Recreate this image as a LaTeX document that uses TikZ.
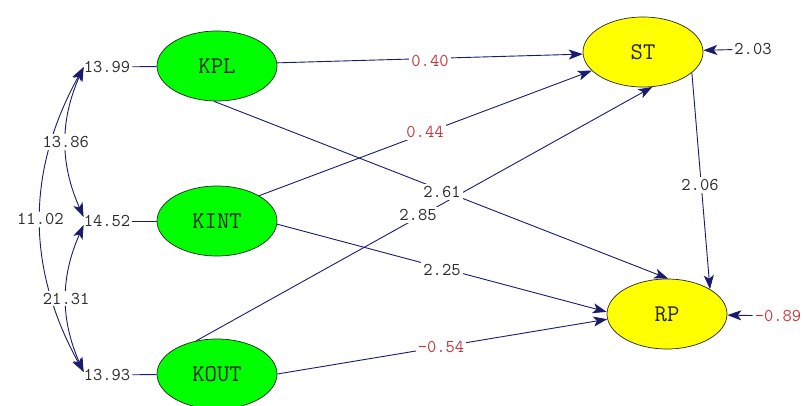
\documentclass[tikz,border=0pt]{standalone}
\usepackage{fontspec}
\usetikzlibrary{shapes.geometric,arrows.meta}
\definecolor{navy}{HTML}{1A1A6E}
\definecolor{numred}{HTML}{C0393F}
\definecolor{numblk}{HTML}{2A2A2A}
\definecolor{exo}{HTML}{00FF00}
\definecolor{endo}{HTML}{FFFF00}
\begin{document}
\begin{tikzpicture}[x=1pt,y=-1pt,
  latent/.style={ellipse,draw=black!85,line width=0.7pt,minimum width=120pt,minimum height=70pt,inner sep=0pt,font=\ttfamily\fontsize{24}{24}\selectfont,text=black!85},
  exonode/.style={latent,fill=exo},
  endonode/.style={latent,fill=endo},
  num/.style={font=\ttfamily\fontsize{18}{18}\selectfont,text=numblk,inner sep=2pt},
  rednum/.style={num,text=numred},
  cut/.style={fill=white},
  path/.style={draw=navy,line width=0.9pt,-{Stealth[length=14pt,width=10pt,inset=3.5pt]}},
  cov/.style={draw=navy,line width=0.9pt,{Stealth[length=14pt,width=10pt,inset=3.5pt]}-{Stealth[length=14pt,width=10pt,inset=3.5pt]}},
  plain/.style={draw=navy,line width=0.9pt}]
\useasboundingbox (0,0) rectangle (803,406);
% latent variables
\node[exonode] (KPL) at (217,66) {KPL};
\node[exonode] (KINT) at (217,221) {KINT};
\node[exonode] (KOUT) at (217,374) {KOUT};
\node[endonode] (ST) at (643,52) {ST};
\node[endonode] (RP) at (667,314) {RP};
% variances
\node[num] (v1) at (107,67) {13.99};
\node[num] (v2) at (107,221) {14.52};
\node[num] (v3) at (107,375) {13.93};
\node[num] (e1) at (753,49) {2.03};
\node[rednum] (e2) at (778,316) {-0.89};
\draw[plain] (v1) -- (KPL);
\draw[plain] (v2) -- (KINT);
\draw[plain] (v3) -- (KOUT);
\draw[path] (e1) -- (ST);
\draw[path] (e2) -- (RP);
% structural paths
\draw[path] (KPL.3) -- (ST.182);
\draw[path] (KINT.31) -- (ST.200);
\draw[path] (KOUT.122) -- (ST.-75);
\draw[path] (KPL.-95) -- (RP.88);
\draw[path] (KINT.-3) -- (RP.178);
\draw[path] (KOUT.0) -- (RP.-175);
\draw[path] (ST.-23) -- (RP.30);
% path labels
\node[rednum,cut] (p1) at (430,61) {0.40};
\node[rednum,cut] (p2) at (425,132) {0.44};
\node[num,cut] (p3) at (418,215) {2.85};
\node[num,cut] (p4) at (442,192) {2.61};
\node[num,cut] (p5) at (442,270) {2.25};
\node[rednum,cut] (p6) at (441,347) {-0.54};
\node[num,cut] (p7) at (700,185) {2.06};
% covariances
\coordinate (c1) at ([xshift=2pt]v1.west);
\coordinate (c2a) at ([xshift=2pt,yshift=4pt]v2.west);
\coordinate (c2b) at ([xshift=2pt,yshift=-4pt]v2.west);
\coordinate (c3) at ([xshift=2pt,yshift=3pt]v3.west);
\draw[cov] (c1) to[bend right=29] node[num,cut] (k2) {11.02} (c3);
\draw[cov] (c1) to[bend right=24] node[num,cut] (k1) {13.86} (c2a);
\draw[cov] (c2b) to[bend right=24] node[num,cut] (k3) {21.31} (c3);
\end{tikzpicture}
\end{document}
